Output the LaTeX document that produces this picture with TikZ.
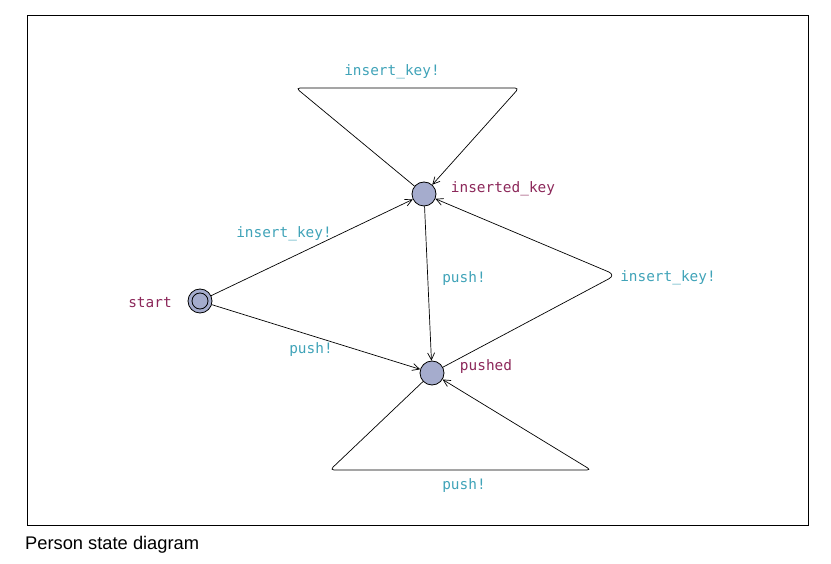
\documentclass[tikz,border=0pt]{standalone}
\usepackage{fontspec}
\setmainfont{Liberation Sans}
\setmonofont{DejaVu Sans Mono}
\usetikzlibrary{arrows.meta}
\definecolor{lblcol}{RGB}{64,163,184}
\definecolor{namecol}{RGB}{140,40,90}
\definecolor{statefill}{RGB}{165,172,205}
\begin{document}
\begin{tikzpicture}[x=1pt,y=-1pt,
  state/.style={circle,draw=black,fill=statefill,minimum size=24pt,inner sep=0pt,line width=0.8pt},
  inner/.style={circle,draw=black,minimum size=16pt,inner sep=0pt,line width=0.8pt},
  edgelbl/.style={font=\ttfamily\fontsize{14.4}{17}\selectfont,text=lblcol,inner sep=0pt},
  namelbl/.style={font=\ttfamily\fontsize{14.4}{17}\selectfont,text=namecol,inner sep=0pt},
  trans/.style={draw=black,line width=0.7pt,rounded corners=4pt,-{Straight Barb[length=7pt,width=7pt]}}]
\useasboundingbox (0,0) rectangle (831,564);
\draw[line width=0.8pt] (27,15) rectangle (808,525);
\node[font=\fontsize{18.3}{21}\selectfont,anchor=west,inner sep=0pt] (cap) at (25,545) {Person state diagram};

\node[state] (st) at (200,301) {};
\node[inner] (sti) at (200,301) {};
\node[state] (ik) at (424,194) {};
\node[state] (pu) at (432,373) {};

\node[namelbl] (nst) at (150,303) {start};
\node[namelbl] (nik) at (503,188.5) {inserted\_key};
\node[namelbl] (npu) at (486,367) {pushed};

\coordinate (t1) at (296,88);
\coordinate (t2) at (519,88);
\coordinate (b1) at (330,470);
\coordinate (b2) at (591,470);
\coordinate (r1) at (616,275);

% top self loop
\draw[trans] (ik) -- (t1) -- (t2) -- (ik);
\node[edgelbl] (l1) at (392,71.5) {insert\_key!};

% start -> inserted_key
\draw[trans] (st) -- (ik);
\node[edgelbl] (l2) at (284,233.5) {insert\_key!};

% start -> pushed
\draw[trans] (st) -- (pu);
\node[edgelbl] (l3) at (311,349.5) {push!};

% inserted_key -> pushed
\draw[trans] (ik) -- (pu);
\node[edgelbl] (l4) at (464,278.5) {push!};

% pushed -> inserted_key via right corner
\draw[trans,rounded corners=8pt] (pu) -- (r1) -- (ik);
\node[edgelbl] (l5) at (668,277.5) {insert\_key!};

% bottom self loop
\draw[trans] (pu) -- (b1) -- (b2) -- (pu);
\node[edgelbl] (l6) at (464,485.5) {push!};
\end{tikzpicture}
\end{document}
